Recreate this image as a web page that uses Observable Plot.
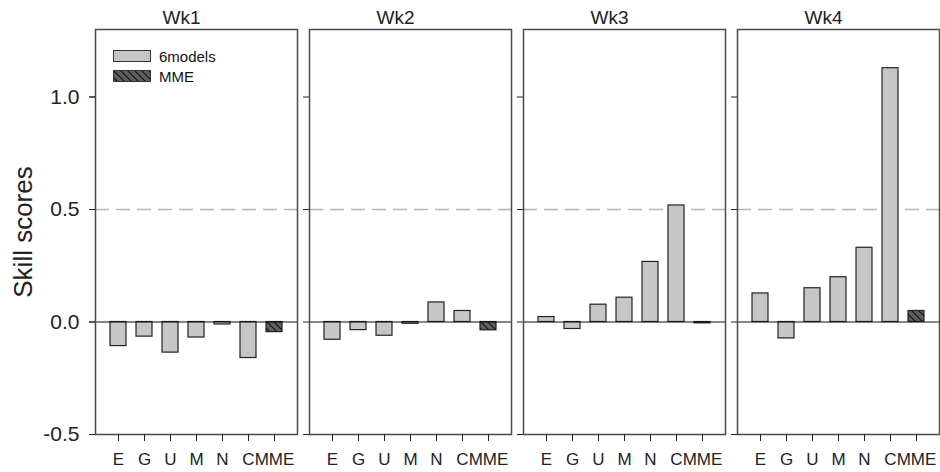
<!DOCTYPE html>
<html><head><meta charset="utf-8">
<script src="https://cdn.jsdelivr.net/npm/d3@7"></script>
<script src="https://cdn.jsdelivr.net/npm/@observablehq/plot@0.6"></script>
<style>
body{margin:0;background:#fff;overflow:hidden}
#chart{position:relative;width:940px;height:472px;font-family:"Liberation Sans",Arial,sans-serif}
#chart > svg{position:absolute;left:0;top:0}
#legend{position:absolute;left:113px;top:46px;font-size:15px;color:#111;z-index:2}
.row{display:flex;align-items:center;height:20px}
.row svg{margin-right:8px;display:block}
</style></head><body>
<div id="chart"><div id="legend"></div></div>
<script>
const weeks = ["Wk1","Wk2","Wk3","Wk4"];
const models = ["E","G","U","M","N","C","MME"];
const wk1 = [-0.107,-0.065,-0.136,-0.069,-0.011,-0.160,-0.045];
const wk2 = [-0.079,-0.036,-0.061,-0.008,0.087,0.049,-0.037];
const wk3 = [0.022,-0.031,0.077,0.108,0.267,0.518,-0.006];
const wk4 = [0.127,-0.073,0.150,0.199,0.330,1.128,0.049];
const yTicks = [-0.5,0,0.5,1.0];
const legendItems = ["6models","MME"];
const refLine = 0.5;
const yLabel = "Skill scores";

const series = [wk1, wk2, wk3, wk4];
const data = [];
weeks.forEach((w, i) => models.forEach((m, j) => data.push({week: w, model: m, value: series[i][j]})));

const font = '"Liberation Sans", Arial, sans-serif';
const svg = Plot.plot({
  width: 940, height: 472,
  marginLeft: 94, marginRight: 0, marginTop: 29, marginBottom: 38,
  style: {fontFamily: font, fontSize: "16px", color: "#222", background: "white", overflow: "visible"},
  fx: {domain: weeks, paddingInner: 0.058, paddingOuter: 0, axis: null, label: null},
  x: {domain: models, paddingInner: 0.39, paddingOuter: 0.57, axis: null, label: null},
  y: {domain: [-0.5, 1.3], axis: null, label: null},
  marks: [
    Plot.ruleY([refLine], {stroke: "#b4b4b4", strokeWidth: 1.3, strokeDasharray: "14,7"}),
    Plot.barY(data.filter(d => d.model !== "MME"), {fx: "week", x: "model", y: "value", fill: "#c6c6c6", stroke: "#222", strokeWidth: 1.2}),
    Plot.barY(data.filter(d => d.model === "MME"), {fx: "week", x: "model", y: "value", fill: "url(#hatch)", stroke: "#222", strokeWidth: 1.2}),
    Plot.ruleY([0], {stroke: "#111", strokeWidth: 1.2}),
    Plot.frame({stroke: "#4a4a4a", strokeWidth: 1.5}),
    Plot.axisY({ticks: yTicks, tickSize: 6, tickPadding: 10, tickFormat: d => d.toFixed(1), fontSize: 21, label: null, facetAnchor: "left"}),
    Plot.axisY({ticks: yTicks, tickSize: 6, tickFormat: () => "", label: null, facetAnchor: null}),
    Plot.axisX({tickSize: 7, tickPadding: 11, fontSize: 17, label: null}),
    Plot.text(weeks, {fx: d => d, text: d => d, frameAnchor: "top", lineAnchor: "bottom", dy: -6, dx: -15, fontSize: 19}),
    Plot.text([yLabel], {fx: ["Wk1"], text: d => d, frameAnchor: "left", rotate: -90, dx: -72, fontSize: 26, textAnchor: "middle", lineAnchor: "middle"})
  ]
});

const defs = d3.select(svg).insert("defs", ":first-child");
const pat = defs.append("pattern").attr("id", "hatch").attr("patternUnits", "userSpaceOnUse").attr("width", 7).attr("height", 7);
pat.append("rect").attr("width", 7).attr("height", 7).attr("fill", "#5e5e5e");
pat.append("path").attr("d", "M-1,-1L8,8M-1,6L1,8M6,-1L8,1").attr("stroke", "#111").attr("stroke-width", 1.1);

const chart = document.getElementById("chart");
chart.insertBefore(svg, chart.firstChild);

const legend = d3.select("#legend");
legendItems.forEach((name, i) => {
  const row = legend.append("div").attr("class", "row");
  const s = row.append("svg").attr("width", 38).attr("height", 12);
  s.append("rect").attr("x", 0.5).attr("y", 0.5).attr("width", 37).attr("height", 11)
    .attr("fill", i === 0 ? "#c6c6c6" : "url(#hatch)").attr("stroke", "#333").attr("stroke-width", 1);
  row.append("span").text(name);
});
</script>
</body></html>
